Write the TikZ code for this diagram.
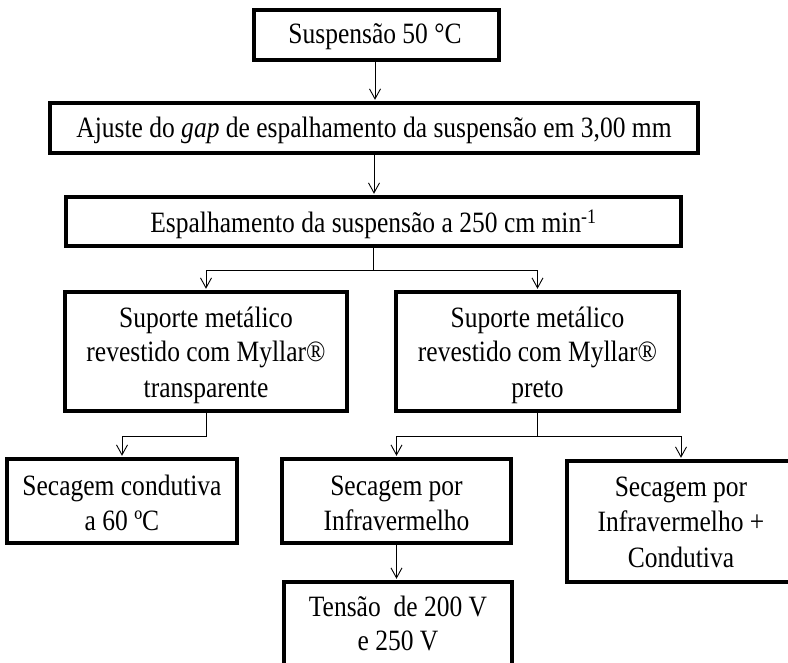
\documentclass[tikz,border=0pt]{standalone}
\usepackage{fontspec}
\setmainfont[FakeStretch=0.865]{Liberation Serif}
\usetikzlibrary{arrows.meta}
\begin{document}
\begin{tikzpicture}[x=1pt,y=-1pt,
  boxst/.style={draw=black,line width=3.4pt,rectangle,inner sep=0pt,fill=white},
  tx/.style={inner sep=0pt,anchor=base,font=\fontsize{29.5}{35}\selectfont},
  lnk/.style={line width=1pt},
  conn/.style={lnk,-{Straight Barb[length=10pt,width=11pt,line width=0.9pt]},shorten >=1.5pt}]
\useasboundingbox (0,0) rectangle (788,663);
\clip (0,0) rectangle (788,663);
\fill[white] (0,0) rectangle (788,663);
% boxes
\node[boxst,minimum width=245pt,minimum height=50pt] (b1) at (376.5,35) {};
\node[boxst,minimum width=648pt,minimum height=50pt] (b2) at (374,128) {};
\node[boxst,minimum width=615pt,minimum height=49pt] (b3) at (373.5,221.5) {};
\node[boxst,minimum width=282pt,minimum height=119pt] (b4) at (206,351.5) {};
\node[boxst,minimum width=283pt,minimum height=119pt] (b5) at (537.5,351.5) {};
\node[boxst,minimum width=230pt,minimum height=84pt] (b6) at (122,501) {};
\node[boxst,minimum width=229pt,minimum height=84pt] (b7) at (396.5,501) {};
\node[boxst,minimum width=228pt,minimum height=121pt] (b8) at (681,521.5) {};
\node[boxst,minimum width=228pt,minimum height=84pt] (b9) at (398,624) {};
% texts
\node[tx] (t1) at (375,44) {Suspensão 50 °C};
\node[tx] (t2) at (374,138) {Ajuste do \textit{gap} de espalhamento da suspensão em 3,00 mm};
\node[tx] (t3) at (373.5,233) {Espalhamento da suspensão a 250 cm min\textsuperscript{-1}};
\node[tx] (t4a) at (206,327) {Suporte metálico};
\node[tx] (t4b) at (206,362) {revestido com Myllar®};
\node[tx] (t4c) at (206,397) {transparente};
\node[tx] (t5a) at (537.5,327) {Suporte metálico};
\node[tx] (t5b) at (537.5,362) {revestido com Myllar®};
\node[tx] (t5c) at (537.5,397) {preto};
\node[tx] (t6a) at (122,495) {Secagem condutiva};
\node[tx] (t6b) at (122,530) {a 60 ºC};
\node[tx] (t7a) at (396.5,495) {Secagem por};
\node[tx] (t7b) at (396.5,530) {Infravermelho};
\node[tx] (t8a) at (681,496) {Secagem por};
\node[tx] (t8b) at (681,531) {Infravermelho +};
\node[tx] (t8c) at (681,567) {Condutiva};
\node[tx] (t9a) at (398,616) {Tensão \ de 200 V};
\node[tx] (t9b) at (398,650) {e 250 V};
% connectors
\draw[conn] (b2.north -| 375,0) coordinate (a1) (b1.south -| a1) -- (a1);
\draw[conn] (b2.south) -- (b2.south |- b3.north);
\draw[lnk] (b3.south) -- ++(0,23) coordinate (f1);
\draw[conn] (f1) -| (b4.north);
\draw[conn] (f1) -| (b5.north);
\draw[conn] (b4.south) -- ++(0,24) -| (b6.north);
\draw[lnk] (b5.south) -- ++(0,24) coordinate (f2);
\draw[conn] (f2) -| (b7.north);
\draw[conn] (f2) -| (b8.north);
\draw[conn] (b7.south) -- (b7.south |- b9.north);
\end{tikzpicture}
\end{document}
